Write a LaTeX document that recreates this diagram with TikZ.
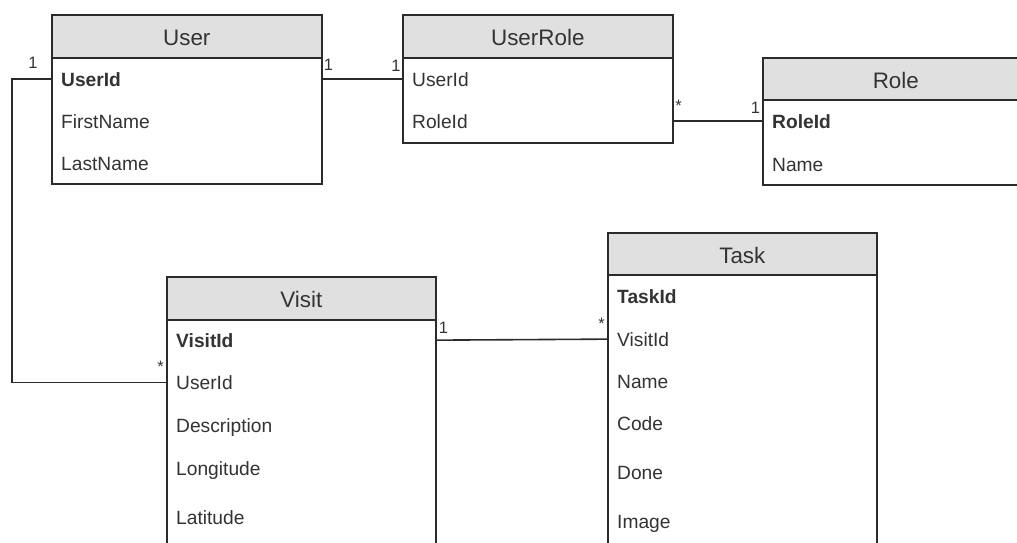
\documentclass[tikz,border=0pt]{standalone}
\usepackage{fontspec}
\setmainfont{Liberation Sans}
\usetikzlibrary{calc}
\definecolor{linec}{HTML}{2B2B2B}
\definecolor{headfill}{HTML}{E0E0E0}
\definecolor{textc}{HTML}{333333}
\newcommand{\attrfont}{\fontsize{19.2}{23}\selectfont}
\newcommand{\titlefont}{\fontsize{22.4}{27}\selectfont}
\newcommand{\multfont}{\fontsize{16.5}{19}\selectfont}

\begin{document}
\begin{tikzpicture}[x=1pt, y=-1pt,
  tablebox/.style={draw=linec, fill=white, line width=1.6pt, anchor=north west, inner sep=0pt},
  headbox/.style={draw=linec, fill=headfill, line width=1.6pt, anchor=north west, inner sep=0pt,
    minimum height=43pt, text height=19pt, text depth=0pt, font=\titlefont, text=textc},
  field/.style={anchor=base west, inner xsep=10pt, inner ysep=0pt, font=\attrfont, text=textc},
  keyfield/.style={field, font=\attrfont\bfseries},
  link/.style={draw=linec, line width=1.6pt},
  mult/.style={anchor=base, inner sep=0pt, font=\multfont, text=textc}]

\useasboundingbox (0,0) rectangle (1017,542);
\clip (0,0) rectangle (1017,542);

% User
\node[tablebox, minimum width=270pt, minimum height=169pt] (user) at (51,14) {};
\node[headbox, minimum width=270pt] (user-h) at (51,14) {User};
\node[keyfield] (user-uid) at (51,86) {UserId};
\node[field] (user-fn) at (51,128) {FirstName};
\node[field] (user-ln) at (51,170) {LastName};

% UserRole
\node[tablebox, minimum width=270pt, minimum height=128pt] (ur) at (402,14) {};
\node[headbox, minimum width=270pt] (ur-h) at (402,14) {UserRole};
\node[field] (ur-uid) at (402,86) {UserId};
\node[field] (ur-rid) at (402,128) {RoleId};

% Role
\node[tablebox, minimum width=266pt, minimum height=127pt] (role) at (762,57) {};
\node[headbox, minimum width=266pt, minimum height=42pt] (role-h) at (762,57) {Role};
\node[keyfield] (role-rid) at (762,128) {RoleId};
\node[field] (role-name) at (762,171) {Name};

% Task
\node[tablebox, minimum width=269pt, minimum height=330pt] (task) at (607,232) {};
\node[headbox, minimum width=269pt, minimum height=42pt] (task-h) at (607,232) {Task};
\node[keyfield] (task-tid) at (607,303) {TaskId};
\node[field] (task-vid) at (607,346) {VisitId};
\node[field] (task-name) at (607,388) {Name};
\node[field] (task-code) at (607,430.5) {Code};
\node[field] (task-done) at (607,479) {Done};
\node[field] (task-img) at (607,528) {Image};

% Visit
\node[tablebox, minimum width=269pt, minimum height=290pt] (visit) at (166,276) {};
\node[headbox, minimum width=269pt] (visit-h) at (166,276) {Visit};
\node[keyfield] (visit-vid) at (166,347) {VisitId};
\node[field] (visit-uid) at (166,389.5) {UserId};
\node[field] (visit-desc) at (166,432) {Description};
\node[field] (visit-lon) at (166,475) {Longitude};
\node[field] (visit-lat) at (166,524) {Latitude};

% Relations
\draw[link] (user-uid.west) -- ++(-39,0) |- (visit-uid.west);
\draw[link] (user-uid.west -| user.east) -- (ur-uid.west);
\draw[link] (ur-rid.west -| ur.east) -- (role-rid.west);
\draw[link] (visit-vid.west -| visit.east) -- (task-vid.west);

% Multiplicities
\node[mult] (m-user-l) at (33,68.5) {1};
\node[mult] (m-user-r) at (328.5,70) {1};
\node[mult] (m-ur-l) at (396,71) {1};
\node[mult] (m-ur-r) at (678.5,111) {*};
\node[mult] (m-role) at (755.5,113) {1};
\node[mult] (m-visit-l) at (160.5,372) {*};
\node[mult] (m-visit-r) at (443.5,333.5) {1};
\node[mult] (m-task) at (601.5,329) {*};
\end{tikzpicture}
\end{document}
